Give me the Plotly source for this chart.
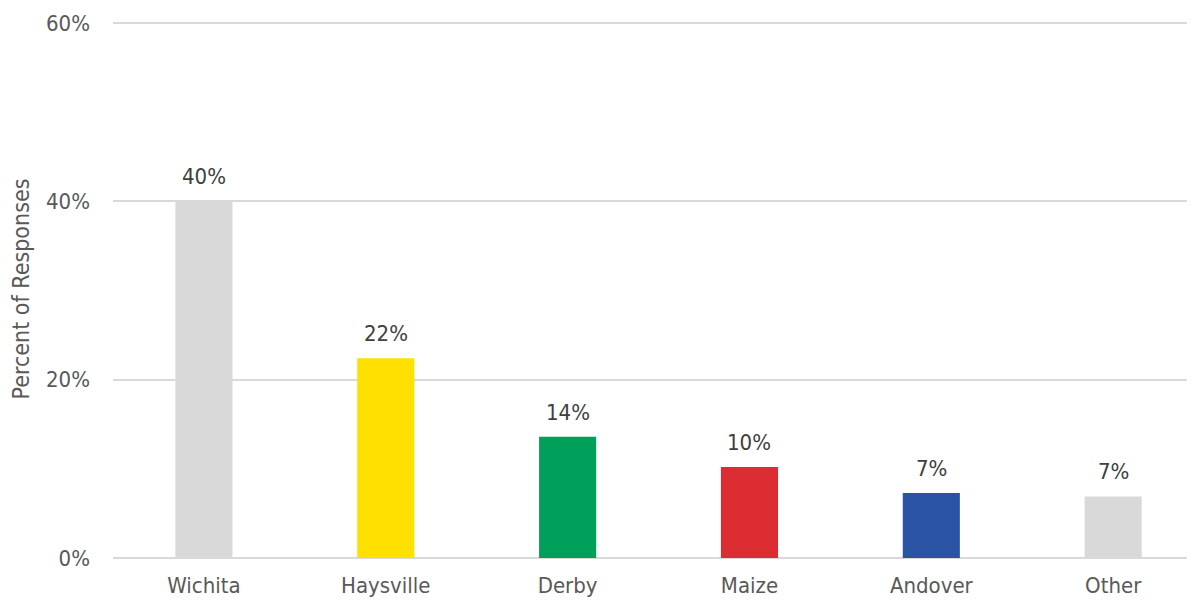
import plotly.graph_objects as go

categories = ["Wichita", "Haysville", "Derby", "Maize", "Andover", "Other"]
values = [40.0, 22.4, 13.6, 10.2, 7.3, 6.9]
labels = ["40%", "22%", "14%", "10%", "7%", "7%"]
colors = ["#d9d9d9", "#ffe000", "#00a05a", "#dc2e32", "#2b53a3", "#d9d9d9"]
y_ticks = [0, 20, 40, 60]
y_tick_labels = ["0%", "20%", "40%", "60%"]

FONT = "DejaVu Sans Condensed"
SIZE = 22

fig = go.Figure(go.Bar(
    x=categories, y=values, marker=dict(color=colors, line=dict(width=0)),
    width=0.314, hoverinfo="skip",
))
for c, v, t in zip(categories, values, labels):
    fig.add_annotation(x=c, y=v, text=t, showarrow=False, yanchor="bottom", yshift=10,
                       font=dict(family=FONT, size=SIZE, color="#404040"))
# page body has an 8px margin, so the figure is sized/offset to compensate
fig.update_layout(
    width=1187, height=595,
    margin=dict(l=105, r=0, t=12, b=45),
    paper_bgcolor="white", plot_bgcolor="white",
    showlegend=False,
    font=dict(family=FONT, size=SIZE, color="#595959"),
    xaxis=dict(range=[-0.5, 5.45], showgrid=False, showline=False, zeroline=False,
               automargin=False,
               tickfont=dict(family=FONT, size=SIZE, color="#595959"),
               ticks="outside", ticklen=8, tickcolor="rgba(0,0,0,0)"),
    yaxis=dict(range=[0, 60.34], tickvals=y_ticks, ticktext=y_tick_labels,
               automargin=False,
               showgrid=True, gridcolor="#d9d9d9", gridwidth=2,
               zeroline=True, zerolinecolor="#d9d9d9", zerolinewidth=2,
               showline=False, ticklabelstandoff=22,
               tickfont=dict(family=FONT, size=SIZE, color="#595959"),
               title=dict(text="Percent of Responses", standoff=10,
                          font=dict(family=FONT, size=23, color="#595959"))),
)
fig.write_html("out.html")
